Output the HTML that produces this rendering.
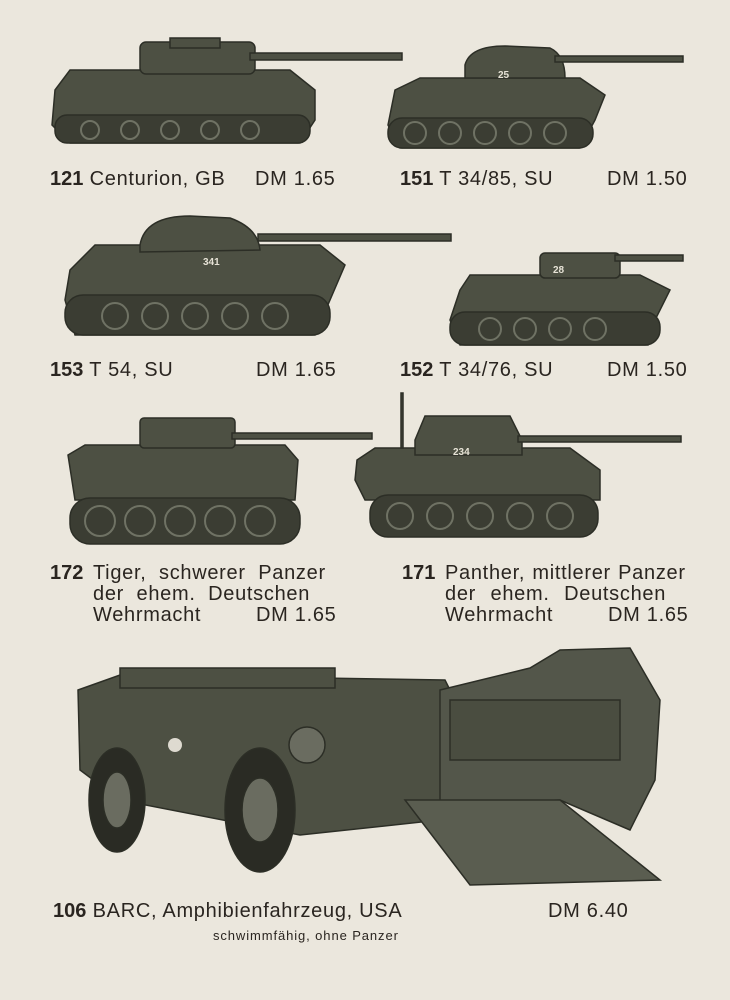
<!DOCTYPE html>
<html><head><style>
body{margin:0;width:730px;height:1000px;background:#ebe7dd;position:relative;overflow:hidden;font-family:"Liberation Sans",sans-serif;color:#2a2520}
.t{position:absolute;font-size:20px;white-space:pre;line-height:1;letter-spacing:0.7px}
b{font-weight:bold;letter-spacing:0}
svg{position:absolute;left:0;top:0}
</style></head><body>
<svg width="730" height="1000" viewBox="0 0 730 1000">
<g fill="#4d5043" stroke="#2c2e26" stroke-width="1.5">
<path d="M55 90 L70 70 L290 70 L315 90 L315 120 L300 143 L70 143 L52 125 Z"/>
<rect x="140" y="42" width="115" height="32" rx="6"/>
<rect x="170" y="38" width="50" height="10"/>
<rect x="250" y="53" width="152" height="7"/>
<rect x="55" y="115" width="255" height="28" rx="12" fill="#3b3d33"/>
<path d="M395 90 L420 78 L580 78 L605 95 L595 120 L580 148 L400 148 L388 125 Z"/>
<path d="M465 65 Q470 46 505 46 L550 48 Q565 55 565 78 L465 78 Z"/>
<rect x="555" y="56" width="128" height="6"/>
<rect x="388" y="118" width="205" height="30" rx="14" fill="#3b3d33"/>
<path d="M70 270 L95 245 L320 245 L345 265 L330 300 L315 335 L75 335 L65 300 Z"/>
<path d="M140 245 Q145 216 190 216 L230 218 Q258 228 260 250 L140 252 Z"/>
<rect x="258" y="234" width="193" height="7"/>
<rect x="65" y="295" width="265" height="40" rx="18" fill="#3b3d33"/>
<path d="M460 290 L470 275 L640 275 L670 290 L655 320 L648 345 L460 345 L450 320 Z"/>
<rect x="540" y="253" width="80" height="25" rx="5"/>
<rect x="615" y="255" width="68" height="6"/>
<rect x="450" y="312" width="210" height="33" rx="15" fill="#3b3d33"/>
<path d="M68 455 L85 445 L285 445 L298 460 L295 500 L75 500 Z"/>
<rect x="140" y="418" width="95" height="30" rx="4"/>
<rect x="232" y="433" width="140" height="6"/>
<rect x="70" y="498" width="230" height="46" rx="20" fill="#3b3d33"/>
<path d="M357 460 L375 448 L570 448 L600 470 L600 500 L365 500 L355 480 Z"/>
<path d="M415 440 L425 416 L510 416 L522 440 L522 455 L415 455 Z"/>
<rect x="518" y="436" width="163" height="6"/>
<rect x="401" y="393" width="2" height="55"/>
<rect x="370" y="495" width="228" height="42" rx="18" fill="#3b3d33"/>
<path d="M78 690 L120 675 L445 680 L455 700 L440 820 L300 835 L120 800 L80 770 Z"/>
<rect x="120" y="668" width="215" height="20"/>
<path d="M440 690 L530 668 L560 650 L630 648 L660 700 L655 780 L630 830 L560 800 L440 805 Z" fill="#53564a"/>
<rect x="450" y="700" width="170" height="60" fill="#4a4d40"/>
<path d="M405 800 L560 800 L660 880 L470 885 Z" fill="#5a5d50"/>
<ellipse cx="117" cy="800" rx="28" ry="52" fill="#2a2b24"/>
<ellipse cx="260" cy="810" rx="35" ry="62" fill="#2a2b24"/>
<ellipse cx="117" cy="800" rx="14" ry="28" fill="#6a6c60"/>
<ellipse cx="260" cy="810" rx="18" ry="32" fill="#6a6c60"/>
<circle cx="307" cy="745" r="18" fill="#6a6c60"/>
</g>
<g fill="none" stroke="#6f7264" stroke-width="2">
<circle cx="90" cy="130" r="9"/><circle cx="130" cy="130" r="9"/><circle cx="170" cy="130" r="9"/><circle cx="210" cy="130" r="9"/><circle cx="250" cy="130" r="9"/>
<circle cx="415" cy="133" r="11"/><circle cx="450" cy="133" r="11"/><circle cx="485" cy="133" r="11"/><circle cx="520" cy="133" r="11"/><circle cx="555" cy="133" r="11"/>
<circle cx="115" cy="316" r="13"/><circle cx="155" cy="316" r="13"/><circle cx="195" cy="316" r="13"/><circle cx="235" cy="316" r="13"/><circle cx="275" cy="316" r="13"/>
<circle cx="490" cy="329" r="11"/><circle cx="525" cy="329" r="11"/><circle cx="560" cy="329" r="11"/><circle cx="595" cy="329" r="11"/>
<circle cx="100" cy="521" r="15"/><circle cx="140" cy="521" r="15"/><circle cx="180" cy="521" r="15"/><circle cx="220" cy="521" r="15"/><circle cx="260" cy="521" r="15"/>
<circle cx="400" cy="516" r="13"/><circle cx="440" cy="516" r="13"/><circle cx="480" cy="516" r="13"/><circle cx="520" cy="516" r="13"/><circle cx="560" cy="516" r="13"/>
</g>
<g fill="#e6e2d6" font-family="Liberation Sans" font-size="10" font-weight="bold">
<text x="498" y="78">25</text><text x="203" y="265">341</text><text x="553" y="273">28</text><text x="453" y="455">234</text>
</g>
<circle cx="175" cy="745" r="7" fill="#dedad0"/>
</svg>
<div class="t" style="left:50px;top:169px"><b>121</b> Centurion, GB</div>
<div class="t" style="left:255px;top:169px">DM 1.65</div>
<div class="t" style="left:400px;top:169px"><b>151</b> T 34/85, SU</div>
<div class="t" style="left:607px;top:169px">DM 1.50</div>
<div class="t" style="left:50px;top:360px"><b>153</b> T 54, SU</div>
<div class="t" style="left:256px;top:360px">DM 1.65</div>
<div class="t" style="left:400px;top:360px"><b>152</b> T 34/76, SU</div>
<div class="t" style="left:607px;top:360px">DM 1.50</div>
<div class="t" style="left:50px;top:563px"><b>172</b></div>
<div class="t" style="left:93px;top:563px;line-height:21px;word-spacing:0px">Tiger,  schwerer  Panzer
der  ehem.  Deutschen
Wehrmacht</div>
<div class="t" style="left:256px;top:605px">DM 1.65</div>
<div class="t" style="left:402px;top:563px"><b>171</b></div>
<div class="t" style="left:445px;top:563px;line-height:21px;word-spacing:1px">Panther, mittlerer Panzer
der  ehem.  Deutschen
Wehrmacht</div>
<div class="t" style="left:608px;top:605px">DM 1.65</div>
<div class="t" style="left:53px;top:901px"><b>106</b> BARC, Amphibienfahrzeug, USA</div>
<div class="t" style="left:548px;top:901px">DM 6.40</div>
<div class="t" style="left:213px;top:929px;font-size:13px;letter-spacing:0.9px">schwimmfähig, ohne Panzer</div>
</body></html>
